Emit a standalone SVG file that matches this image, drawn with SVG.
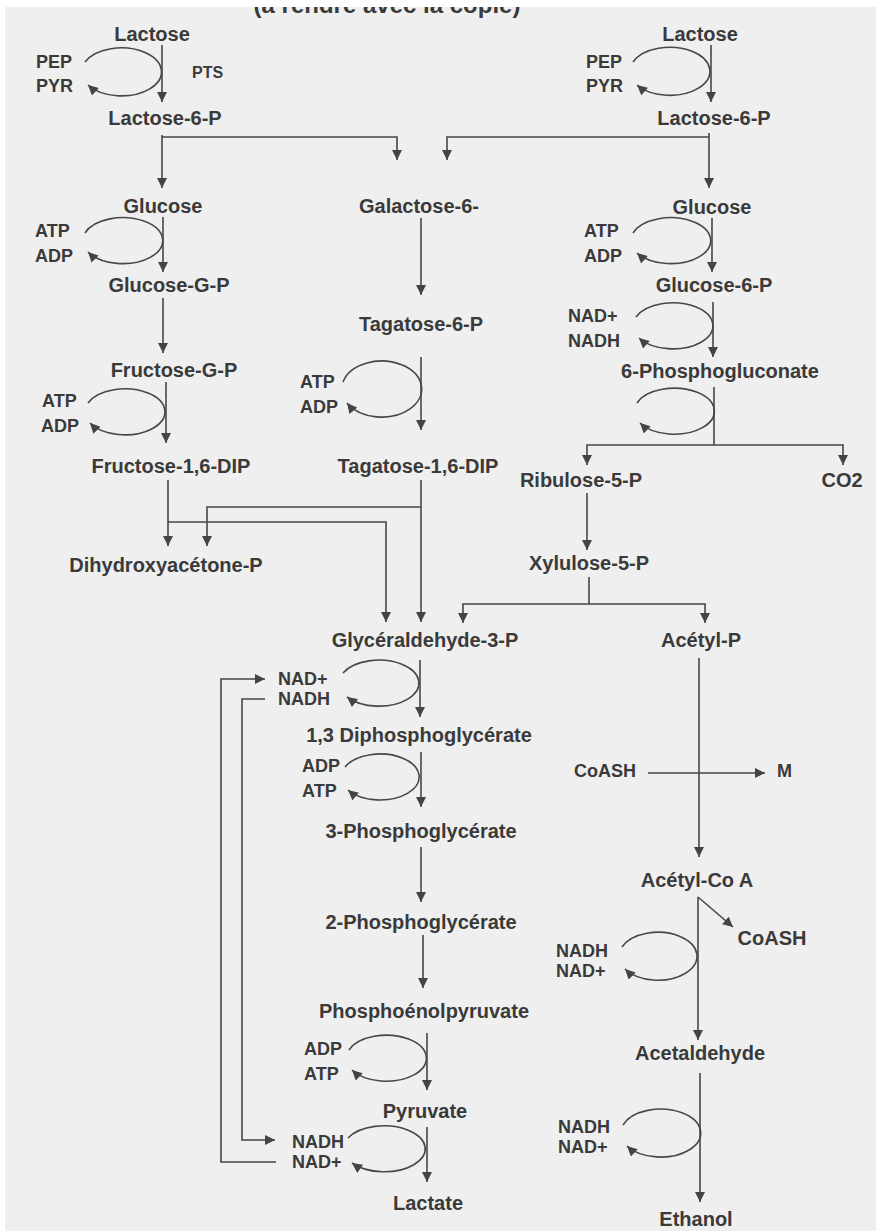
<svg xmlns="http://www.w3.org/2000/svg" width="880" height="1231" viewBox="0 0 880 1231">
<defs>
<style>
text{font-family:"Liberation Sans",Arial,sans-serif;font-weight:bold;fill:#3a3a3a}
.m{font-size:20px;text-anchor:middle}
.c{font-size:18px}
.t{font-size:24px;text-anchor:middle}
.ln{fill:none;stroke:#474747;stroke-width:1.6}
.ar{fill:none;stroke:#474747;stroke-width:1.6;marker-end:url(#ah)}
</style>
<marker id="ah" viewBox="0 0 10 10" refX="10" refY="5" markerWidth="11" markerHeight="10" markerUnits="userSpaceOnUse" orient="auto">
<path d="M0,0 L10,5 L0,10 z" fill="#444"/>
</marker>
</defs>
<rect x="0" y="0" width="880" height="1231" fill="#ffffff"/>
<rect x="5" y="7" width="871" height="1224" fill="#efefef"/>
<text class="t" x="387" y="13">(à rendre avec la copie)</text>
<rect x="0" y="0" width="880" height="7" fill="#ffffff"/>

<g id="connectors">
<path class="ar" d="M162,45 L162,102"/>
<path class="ar" d="M162,135 L162,188"/>
<path class="ar" d="M162,137 L397,137 L397,160"/>
<path class="ar" d="M711,45 L711,102"/>
<path class="ar" d="M709,133 L709,188"/>
<path class="ar" d="M709,137 L447,137 L447,160"/>
<path class="ar" d="M163,217 L163,272"/>
<path class="ar" d="M163,298 L163,353"/>
<path class="ar" d="M166,382 L166,443"/>
<path class="ar" d="M168,480 L168,546"/>
<path class="ar" d="M168,522 L386,522 L386,622"/>
<path class="ar" d="M421,480 L421,622"/>
<path class="ar" d="M421,507 L207,507 L207,546"/>
<path class="ar" d="M421,218 L421,295"/>
<path class="ar" d="M421,357 L421,430"/>
<path class="ar" d="M712,218 L712,272"/>
<path class="ar" d="M713,302 L713,357"/>
<path class="ln" d="M714,387 L714,445"/>
<path class="ar" d="M714,445 L587,445 L587,465"/>
<path class="ar" d="M714,445 L843,445 L843,465"/>
<path class="ar" d="M587,493 L587,550"/>
<path class="ln" d="M589,577 L589,604"/>
<path class="ar" d="M589,604 L463,604 L463,623"/>
<path class="ar" d="M589,604 L705,604 L705,623"/>
<path class="ar" d="M699,658 L699,857"/>
<path class="ar" d="M648,773 L765,773"/>
<path class="ar" d="M698,897 L698,1040"/>
<path class="ar" d="M698,897 L733,927"/>
<path class="ar" d="M700,1073 L700,1202"/>
<path class="ar" d="M420,660 L420,717"/>
<path class="ar" d="M421,752 L421,807"/>
<path class="ar" d="M421,847 L421,902"/>
<path class="ar" d="M423,935 L423,988"/>
<path class="ar" d="M427,1033 L427,1090"/>
<path class="ar" d="M427,1127 L427,1182"/>
<path class="ar" d="M276,1162 L221,1162 L221,679 L265,679"/>
<path class="ar" d="M265,699 L242,699 L242,1140 L275,1140"/>
<!-- cofactor loops -->
<path class="ar" d="M85,62 A40,24 0 1 1 88,85"/>
<path class="ar" d="M633,62 A40,24 0 1 1 637,85"/>
<path class="ar" d="M85,233 A40,23 0 1 1 88,252"/>
<path class="ar" d="M88,403 A40,23 0 1 1 90,423"/>
<path class="ar" d="M343,382 A40,28 0 1 1 347,403"/>
<path class="ar" d="M633,233 A40,23 0 1 1 637,253"/>
<path class="ar" d="M636,317 A40,23 0 1 1 639,338"/>
<path class="ar" d="M637,403 A40,23 0 1 1 640,423"/>
<path class="ar" d="M343,673 A40,23 0 1 1 347,697"/>
<path class="ar" d="M345,767 A39,23 0 1 1 348,790"/>
<path class="ar" d="M349,1050 A40,23 0 1 1 352,1070"/>
<path class="ar" d="M348,1138 A41,23 0 1 1 352,1163"/>
<path class="ar" d="M622,947 A39,24 0 1 1 625,969"/>
<path class="ar" d="M623,1125 A40,24 0 1 1 627,1146"/>
</g>

<g id="n-lactose-l"><text class="m" x="152" y="41">Lactose</text></g>
<g id="n-lactose6p-l"><text class="m" x="165" y="125">Lactose-6-P</text></g>
<g id="n-glucose-l"><text class="m" x="163" y="213">Glucose</text></g>
<g id="n-glucosegp"><text class="m" x="169" y="292">Glucose-G-P</text></g>
<g id="n-fructosegp"><text class="m" x="174" y="377">Fructose-G-P</text></g>
<g id="n-fructose16"><text class="m" x="171" y="473">Fructose-1,6-DIP</text></g>
<g id="n-dhap"><text class="m" x="166" y="572">Dihydroxyacétone-P</text></g>
<g id="n-lactose-r"><text class="m" x="700" y="41">Lactose</text></g>
<g id="n-lactose6p-r"><text class="m" x="714" y="125">Lactose-6-P</text></g>
<g id="n-glucose-r"><text class="m" x="712" y="214">Glucose</text></g>
<g id="n-glucose6p"><text class="m" x="714" y="292">Glucose-6-P</text></g>
<g id="n-6pg"><text class="m" x="720" y="378">6-Phosphogluconate</text></g>
<g id="n-galactose6"><text class="m" x="419" y="213">Galactose-6-</text></g>
<g id="n-tagatose6p"><text class="m" x="421" y="331">Tagatose-6-P</text></g>
<g id="n-tagatose16"><text class="m" x="418" y="473">Tagatose-1,6-DIP</text></g>
<g id="n-ribulose"><text class="m" x="581" y="487">Ribulose-5-P</text></g>
<g id="n-co2"><text class="m" x="842" y="487">CO2</text></g>
<g id="n-xylulose"><text class="m" x="589" y="570">Xylulose-5-P</text></g>
<g id="n-gap"><text class="m" x="425" y="647">Glycéraldehyde-3-P</text></g>
<g id="n-acetylp"><text class="m" x="701" y="647">Acétyl-P</text></g>
<g id="n-13dpg"><text class="m" x="419" y="742">1,3 Diphosphoglycérate</text></g>
<g id="n-3pg"><text class="m" x="421" y="838">3-Phosphoglycérate</text></g>
<g id="n-2pg"><text class="m" x="421" y="929">2-Phosphoglycérate</text></g>
<g id="n-pep"><text class="m" x="424" y="1018">Phosphoénolpyruvate</text></g>
<g id="n-pyruvate"><text class="m" x="425" y="1118">Pyruvate</text></g>
<g id="n-lactate"><text class="m" x="428" y="1210">Lactate</text></g>
<g id="n-acetylcoa"><text class="m" x="697" y="887">Acétyl-Co A</text></g>
<g id="n-coash2"><text class="m" x="772" y="945">CoASH</text></g>
<g id="n-acetaldehyde"><text class="m" x="700" y="1060">Acetaldehyde</text></g>
<g id="n-ethanol"><text class="m" x="696" y="1226">Ethanol</text></g>

<g id="cofactors">
<text class="c" x="36" y="68">PEP</text><text class="c" x="36" y="92">PYR</text>
<text class="c" x="192" y="78" style="font-size:16px">PTS</text>
<text class="c" x="586" y="68">PEP</text><text class="c" x="586" y="92">PYR</text>
<text class="c" x="35" y="237">ATP</text><text class="c" x="35" y="262">ADP</text>
<text class="c" x="42" y="407">ATP</text><text class="c" x="41" y="432">ADP</text>
<text class="c" x="300" y="388">ATP</text><text class="c" x="300" y="413">ADP</text>
<text class="c" x="584" y="237">ATP</text><text class="c" x="584" y="262">ADP</text>
<text class="c" x="568" y="322">NAD+</text><text class="c" x="568" y="347">NADH</text>
<text class="c" x="278" y="685">NAD+</text><text class="c" x="278" y="705">NADH</text>
<text class="c" x="302" y="772">ADP</text><text class="c" x="302" y="797">ATP</text>
<text class="c" x="304" y="1055">ADP</text><text class="c" x="304" y="1080">ATP</text>
<text class="c" x="292" y="1148">NADH</text><text class="c" x="292" y="1168">NAD+</text>
<text class="c" x="574" y="777">CoASH</text><text class="c" x="777" y="777">M</text>
<text class="c" x="556" y="957">NADH</text><text class="c" x="556" y="977">NAD+</text>
<text class="c" x="558" y="1133">NADH</text><text class="c" x="558" y="1153">NAD+</text>
</g>
</svg>
